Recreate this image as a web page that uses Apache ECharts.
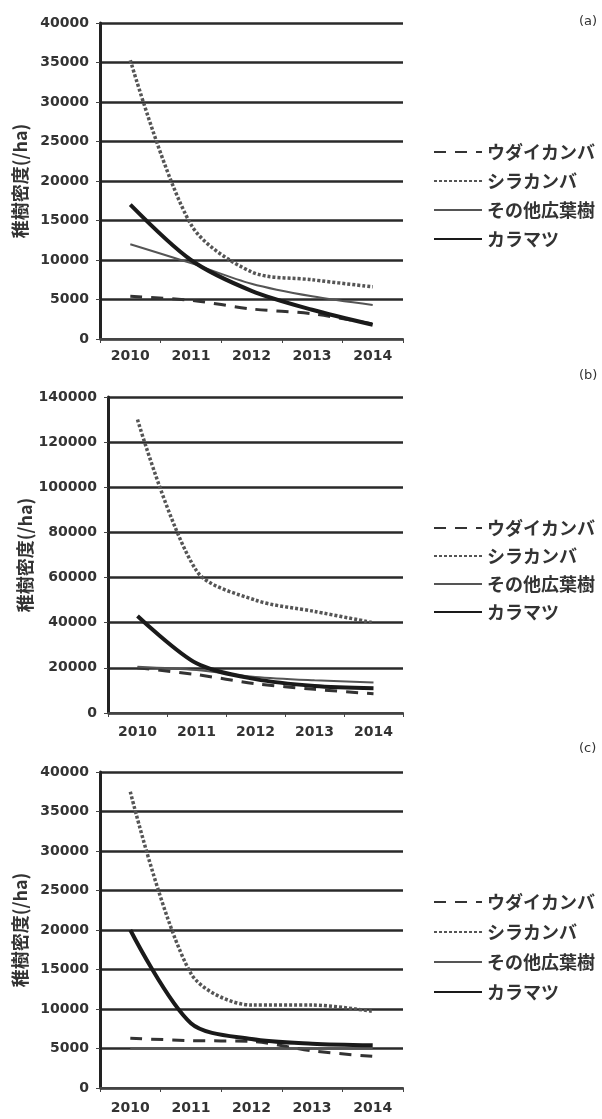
<!DOCTYPE html>
<html>
<head>
<meta charset="utf-8">
<script src="https://cdn.jsdelivr.net/npm/echarts@6/dist/echarts.min.js"></script>
<style>
html,body{margin:0;padding:0;background:#fff;}
#c{width:602px;height:1119px;}
</style>
</head>
<body>
<div id="c"></div>
<script>
// ---- data ----
const years = ['2010', '2011', '2012', '2013', '2014'];
const speciesNames = ['ウダイカンバ', 'シラカンバ', 'その他広葉樹', 'カラマツ'];
const panelLabels = ['(a)', '(b)', '(c)'];
const yAxisName = '稚樹密度(/ha)';

// panel (a)
const udaiA   = [5400, 4900, 3800, 3200, 1900];
const shiraA  = [35300, 14500, 8500, 7500, 6600];
const sonotaA = [12000, 9600, 7000, 5400, 4300];
const karaA   = [17000, 10000, 6100, 3700, 1800];
// panel (b)
const udaiB   = [20000, 17000, 13000, 10500, 8500];
const shiraB  = [130000, 63000, 50000, 45000, 40000];
const sonotaB = [20500, 19000, 16000, 14500, 13500];
const karaB   = [43000, 22000, 15000, 12000, 11000];
// panel (c)
const udaiC   = [6300, 6000, 5900, 4700, 4000];
const shiraC  = [37500, 14500, 10500, 10500, 9700];
const sonotaC = [5000, 5000, 5000, 5000, 5000];
const karaC   = [20000, 8200, 6200, 5600, 5400];

const yMax = [40000, 140000, 40000];
const yStep = [5000, 20000, 5000];

// ---- layout / styles ----
const grids = [
  {left: 100, top: 23, width: 303, height: 316},
  {left: 108, top: 397, width: 295, height: 316},
  {left: 100, top: 772, width: 303, height: 316}
];
const labelMargins = [10, 12, 13];
const legendTops = [137, 513, 887];
const legendGaps = [9, 8, 10];
const titleTops = [10, 364, 737];
const nameGaps = [61, 69, 61];

const lineStyles = [
  {color: '#333', width: 3, type: [12, 9]},
  {color: '#555', width: 3.5, type: [3, 2]},
  {color: '#555', width: 2},
  {color: '#1a1a1a', width: 4}
];

const panels = [
  [udaiA, shiraA, sonotaA, karaA],
  [udaiB, shiraB, sonotaB, karaB],
  [udaiC, shiraC, sonotaC, karaC]
];

const font = 'DejaVu Sans';
const option = {
  animation: false,
  backgroundColor: '#fff',
  title: panelLabels.map((t, i) => ({
    text: t, left: 574, top: titleTops[i],
    textStyle: {fontSize: 13, fontWeight: 'normal', color: '#333', fontFamily: font}
  })),
  grid: grids,
  legend: grids.map((g, i) => ({
    data: speciesNames,
    orient: 'vertical',
    left: 428, top: legendTops[i],
    itemWidth: 48, itemHeight: 10, itemGap: legendGaps[i],
    selectedMode: false,
    itemStyle: {opacity: 0},
    textStyle: {fontSize: 18, fontWeight: 'bold', color: '#333', lineHeight: 20, fontFamily: 'Noto Sans CJK JP'}
  })),
  xAxis: grids.map((g, i) => ({
    type: 'category', gridIndex: i, data: years, boundaryGap: true,
    axisLine: {lineStyle: {color: '#444', width: 2}},
    axisTick: {show: true, length: 4, lineStyle: {color: '#444'}},
    axisLabel: {margin: labelMargins[i], fontSize: 14, fontWeight: 'bold', color: '#333', fontFamily: font}
  })),
  yAxis: grids.map((g, i) => ({
    type: 'value', gridIndex: i, min: 0, max: yMax[i], interval: yStep[i],
    name: yAxisName, nameLocation: 'middle', nameGap: nameGaps[i],
    nameTextStyle: {fontSize: 18, fontWeight: 'bold', color: '#333', fontFamily: 'Noto Sans CJK JP'},
    axisLine: {show: true, lineStyle: {color: '#222', width: 3}},
    axisTick: {show: true, length: 4, lineStyle: {color: '#444'}},
    axisLabel: {margin: 11, fontSize: 14, fontWeight: 'bold', color: '#333', fontFamily: font,
      formatter: v => String(v)},
    splitLine: {show: true, lineStyle: {color: '#2a2a2a', width: 2.5}}
  })),
  series: []
};

panels.forEach((arrs, p) => {
  arrs.forEach((vals, k) => {
    option.series.push({
      type: 'line', name: speciesNames[k],
      xAxisIndex: p, yAxisIndex: p,
      data: vals, smooth: 0.3,
      symbol: 'none',
      lineStyle: lineStyles[k],
      itemStyle: {color: lineStyles[k].color},
      z: 3 + k
    });
  });
});

const chart = echarts.init(document.getElementById('c'), null, {renderer: 'canvas'});
chart.setOption(option);
</script>
</body>
</html>
